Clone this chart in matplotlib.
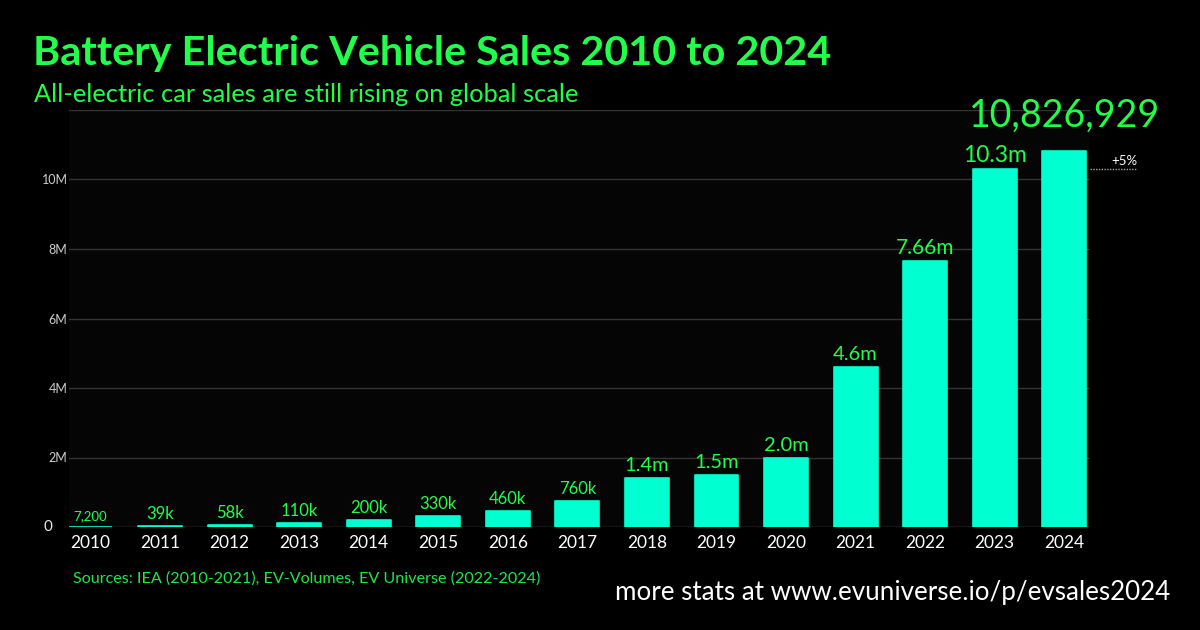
import matplotlib
matplotlib.use("Agg")
import matplotlib.pyplot as plt

years = ["2010", "2011", "2012", "2013", "2014", "2015", "2016", "2017",
         "2018", "2019", "2020", "2021", "2022", "2023", "2024"]
sales = [7200, 39000, 58000, 110000, 200000, 330000, 460000, 760000,
         1400000, 1500000, 2000000, 4600000, 7660000, 10300000, 10826929]
value_labels = ["7,200", "39k", "58k", "110k", "200k", "330k", "460k", "760k",
                "1.4m", "1.5m", "2.0m", "4.6m", "7.66m", "10.3m", "10,826,929"]
label_sizes = [9.5, 12, 12, 12, 12, 12, 12, 12, 14.5, 14.5, 14.5, 14.5, 15, 16.5, 27]
ytick_vals = [2e6, 4e6, 6e6, 8e6, 10e6]
ytick_labels = ["2M", "4M", "6M", "8M", "10M"]
growth_label = "+5%"

title = "Battery Electric Vehicle Sales 2010 to 2024"
subtitle = "All-electric car sales are still rising on global scale"
sources = "Sources: IEA (2010-2021), EV-Volumes, EV Universe (2022-2024)"
footer = "more stats at www.evuniverse.io/p/evsales2024"

FONT = "Lato"
BAR = "#00FFD1"
GREEN = "#20FF48"
W, H = 1200, 630

plt.rcParams["font.family"] = [FONT, "DejaVu Sans"]
fig = plt.figure(figsize=(12, 6.3), dpi=100, facecolor="#000000")

# axes in pixel geometry
left_px, right_px, bottom_px, top_px = 69, 1090, 527, 110
ax = fig.add_axes([left_px / W, 1 - bottom_px / H, (right_px - left_px) / W,
                   (bottom_px - top_px) / H])
ax.set_facecolor("#050505")
x = list(range(len(years)))
ax.set_xlim(-0.309, 14.37)
ax.set_ylim(0, 12e6)

for v in ytick_vals + [12e6]:
    ax.axhline(v, color="#333333", lw=1, zorder=1)
ax.axhline(0, color="#555555", lw=1, zorder=1)

ax.bar(x, sales, width=0.63, color=BAR, edgecolor=BAR, linewidth=1.2,
       joinstyle="round", zorder=3)

for i, (v, lab, s) in enumerate(zip(sales, value_labels, label_sizes)):
    off = 17 if i == len(sales) - 1 else 5
    ax.annotate(lab, (i, v), xytext=(0, off), textcoords="offset points",
                ha="center", va="baseline", color=GREEN, fontsize=s,
                zorder=5, annotation_clip=False)

ax.set_xticks(x)
ax.set_xticklabels(years, color="white", fontsize=12.5)
ax.set_yticks(ytick_vals)
ax.set_yticklabels(ytick_labels, color="#cccccc", fontsize=9)
ax.tick_params(axis="both", length=0)
ax.tick_params(axis="x", pad=6)
ax.tick_params(axis="y", pad=1)
for sp in ax.spines.values():
    sp.set_visible(False)

# zero label
ax.annotate("0", (-0.309, 0), xytext=(-15, 0), textcoords="offset points",
            ha="center", va="center", color="#e8e8e8", fontsize=11,
            annotation_clip=False)

# growth marker next to last bar
ax.plot([14.37, 15.05], [sales[-2], sales[-2]], color="#aaaaaa", lw=1,
        ls=(0, (1, 1)), clip_on=False, zorder=4)
ax.annotate(growth_label, (15.05, sales[-2]), xytext=(0, 3),
            textcoords="offset points", ha="right", va="baseline",
            color="white", fontsize=9.5, annotation_clip=False)

renderer = fig.canvas.get_renderer()


def fit_text(xp, yp, s, target_w, size, **kw):
    t = fig.text(xp / W, 1 - yp / H, s, fontsize=size, va="baseline", **kw)
    w = t.get_window_extent(renderer).width
    t.set_fontsize(size * target_w / w)
    return t


fit_text(33, 65, title, 800, 25, color="#22FF4B", fontweight="bold")
fit_text(34, 102, subtitle, 546, 16, color=GREEN)
fit_text(73, 583, sources, 467, 9.5, color="#1EE844")
fit_text(615, 600, footer, 557, 16, color="white")

fig.savefig("out.png", dpi=100, facecolor="#000000")
